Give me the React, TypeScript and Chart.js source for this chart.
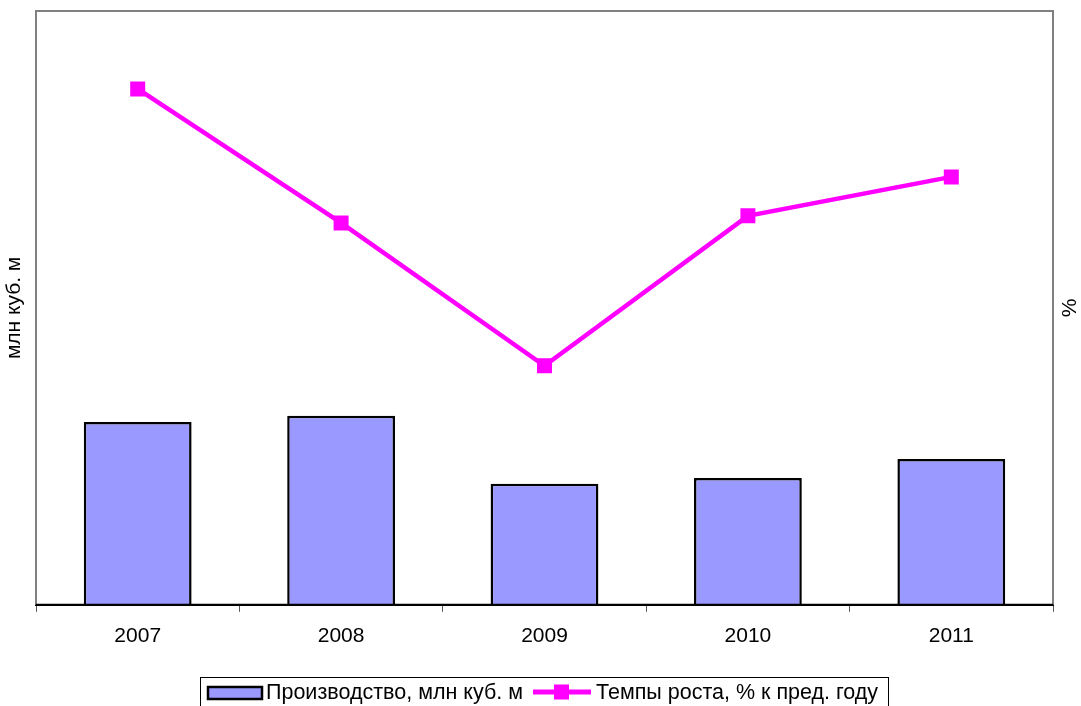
import React, { useEffect, useRef } from "react";
import { Chart, registerables } from "chart.js";

Chart.register(...registerables);

const years = ["2007", "2008", "2009", "2010", "2011"];
const production = [92.4, 95.5, 61.1, 64.1, 73.7];
const growth = [139.0, 102.9, 64.4, 104.8, 115.3];
const leftTitle = "млн куб. м";
const rightTitle = "%";
const barLabel = "Производство, млн куб. м";
const lineLabel = "Темпы роста, % к пред. году";

const FONT = "'Liberation Sans', Arial, sans-serif";

const overlay = {
  id: "overlay",
  afterDraw(chart: any) {
    const { ctx, chartArea } = chart;
    const { left, right, top, bottom } = chartArea;
    ctx.save();
    // plot border
    ctx.strokeStyle = "#808080";
    ctx.lineWidth = 2;
    ctx.beginPath();
    ctx.moveTo(left, bottom);
    ctx.lineTo(left, top);
    ctx.lineTo(right, top);
    ctx.lineTo(right, bottom);
    ctx.stroke();
    // bottom axis line
    ctx.strokeStyle = "#000";
    ctx.lineWidth = 2;
    ctx.beginPath();
    ctx.moveTo(left, bottom);
    ctx.lineTo(right, bottom);
    ctx.stroke();

    // axis titles
    ctx.fillStyle = "#000";
    ctx.font = `21px ${FONT}`;
    ctx.textAlign = "center";
    ctx.textBaseline = "middle";
    const cy = (top + bottom) / 2;
    ctx.save();
    ctx.translate(14, cy);
    ctx.rotate(-Math.PI / 2);
    ctx.fillText(leftTitle, 0, 0);
    ctx.restore();
    ctx.save();
    ctx.translate(1070, cy);
    ctx.rotate(-Math.PI / 2);
    ctx.fillText(rightTitle, 0, 0);
    ctx.restore();

    // legend
    const lx = 200, ly = 677, lw = 688, lh = 40;
    ctx.strokeStyle = "#000";
    ctx.lineWidth = 1;
    ctx.strokeRect(lx + 0.5, ly + 0.5, lw, lh);
    // bar symbol
    ctx.fillStyle = "#9999FF";
    ctx.fillRect(208, 687, 54, 12);
    ctx.strokeStyle = "#000";
    ctx.lineWidth = 2.5;
    ctx.strokeRect(208, 687, 54, 12);
    ctx.fillStyle = "#000";
    ctx.font = `21.5px ${FONT}`;
    ctx.textAlign = "left";
    ctx.textBaseline = "middle";
    ctx.fillText(barLabel, 266, 693);
    // line symbol
    ctx.strokeStyle = "#FF00FF";
    ctx.lineWidth = 5;
    ctx.beginPath();
    ctx.moveTo(533, 692);
    ctx.lineTo(591, 692);
    ctx.stroke();
    ctx.fillStyle = "#FF00FF";
    ctx.fillRect(554, 684.5, 15, 15);
    ctx.fillStyle = "#000";
    ctx.fillText(lineLabel, 596, 693);
    ctx.restore();
  },
};

export default function App() {
  const ref = useRef<HTMLCanvasElement | null>(null);
  useEffect(() => {
    if (!ref.current) return;
    const chart = new Chart(ref.current, {
      type: "bar",
      data: {
        labels: years,
        datasets: [
          {
            type: "line",
            label: lineLabel,
            data: growth,
            yAxisID: "y1",
            borderColor: "#FF00FF",
            backgroundColor: "#FF00FF",
            borderWidth: 4.5,
            pointStyle: "rect",
            pointRadius: 10.6,
            pointBorderWidth: 0,
            pointBackgroundColor: "#FF00FF",
            tension: 0,
            order: 0,
          } as any,
          {
            type: "bar",
            label: barLabel,
            data: production,
            yAxisID: "y",
            backgroundColor: "#9999FF",
            borderColor: "#000",
            borderWidth: 2.5,
            barPercentage: 0.53,
            categoryPercentage: 1,
            order: 1,
          } as any,
        ],
      },
      options: {
        animation: false,
        responsive: true,
        maintainAspectRatio: false,
        layout: { padding: { left: 36, right: 28, top: 11, bottom: 45 } },
        plugins: { legend: { display: false }, tooltip: { enabled: false } },
        scales: {
          x: {
            offset: true,
            grid: {
              display: true,
              offset: true,
              drawOnChartArea: false,
              drawTicks: true,
              tickLength: 7,
              color: "#555",
              lineWidth: 1,
            },
            border: { display: true, color: "#000", width: 2 },
            ticks: {
              color: "#000",
              font: { family: FONT, size: 21 },
              padding: 12,
              maxRotation: 0,
            },
          },
          y: {
            display: false,
            min: 0,
            max: 300,
          },
          y1: {
            display: false,
            position: "right",
            min: 0,
            max: 160,
          },
        },
      },
      plugins: [overlay],
    });
    return () => chart.destroy();
  }, []);
  return (
    <div style={{ position: "absolute", left: 0, top: 0, width: 1081, height: 706, background: "#fff" }}>
      <canvas ref={ref} />
    </div>
  );
}
